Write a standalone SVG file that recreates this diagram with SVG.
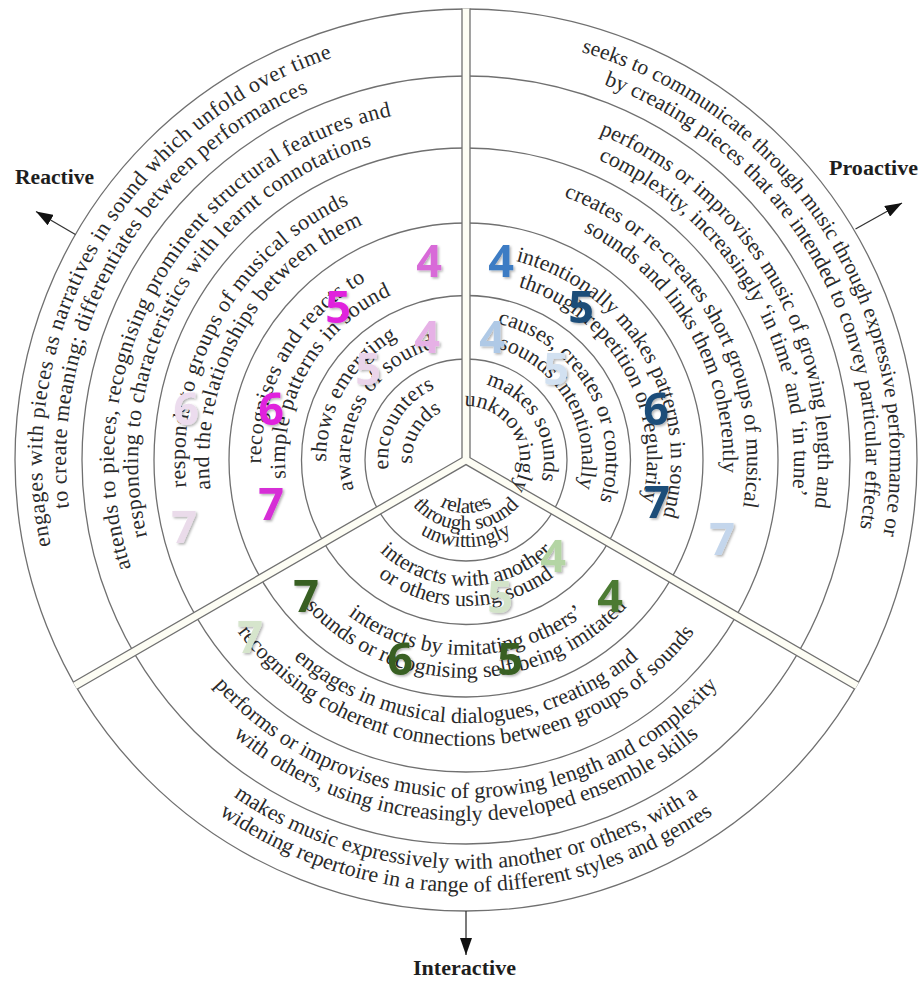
<svg xmlns="http://www.w3.org/2000/svg" width="923" height="981" viewBox="0 0 923 981">
<style>
.ring{fill:none;stroke:#707070;stroke-width:1.3}
.edge{fill:none;stroke:#707070;stroke-width:1.3}
.t{font-family:"Liberation Serif",serif;font-size:22px;fill:#2a2a2a}
.tr{font-family:"Liberation Serif",serif;font-size:22px;letter-spacing:0.5px;fill:#2a2a2a}
.tc{font-family:"Liberation Serif",serif;font-size:21px;fill:#2a2a2a}
.num{font-family:"Open Sans","Liberation Sans",sans-serif;font-weight:bold;font-size:45px;text-anchor:middle;filter:url(#sh)}
.lbl{font-family:"Liberation Serif",serif;font-weight:bold;font-size:20px;fill:#1e1e1e}
.arr{stroke:#333;stroke-width:1.3;fill:none;marker-end:url(#ah)}
</style>
<defs>
<marker id="ah" viewBox="0 0 17 12" refX="17" refY="6" markerWidth="17" markerHeight="12" markerUnits="userSpaceOnUse" orient="auto"><path d="M0,0 L17,6 L0,12 z" fill="#111"/></marker>
<filter id="sh" x="-30%" y="-30%" width="160%" height="160%"><feDropShadow dx="1.5" dy="1.5" stdDeviation="1.2" flood-color="#000" flood-opacity="0.3"/></filter>
<path id="R424" d="M320.98,858.43 A424,424 0 1 1 738.54,135.20"/>
<path id="R400" d="M329.19,835.88 A400,400 0 1 1 723.12,153.58"/>
<path id="R352" d="M345.61,790.77 A352,352 0 1 1 692.26,190.35"/>
<path id="R328" d="M353.82,768.22 A328,328 0 1 1 676.84,208.74"/>
<path id="R281" d="M369.89,724.05 A281,281 0 1 1 646.62,244.74"/>
<path id="R257" d="M378.10,701.50 A257,257 0 1 1 631.20,263.13"/>
<path id="R205" d="M395.89,652.64 A205,205 0 1 1 597.77,302.96"/>
<path id="R181" d="M404.09,630.08 A181,181 0 1 1 582.34,321.35"/>
<path id="R140" d="M418.12,591.56 A140,140 0 1 1 555.99,352.75"/>
<path id="R116" d="M426.33,569.00 A116,116 0 1 1 540.56,371.14"/>
<path id="R78" d="M439.32,533.30 A78,78 0 1 1 516.14,400.25"/>
<path id="R54" d="M447.53,510.74 A54,54 0 1 1 500.71,418.63"/>
<path id="P424" d="M193.46,135.20 A424,424 0 1 1 611.02,858.43"/>
<path id="P400" d="M208.88,153.58 A400,400 0 1 1 602.81,835.88"/>
<path id="P352" d="M239.74,190.35 A352,352 0 1 1 586.39,790.77"/>
<path id="P328" d="M255.16,208.74 A328,328 0 1 1 578.18,768.22"/>
<path id="P281" d="M285.38,244.74 A281,281 0 1 1 562.11,724.05"/>
<path id="P257" d="M300.80,263.13 A257,257 0 1 1 553.90,701.50"/>
<path id="P205" d="M334.23,302.96 A205,205 0 1 1 536.11,652.64"/>
<path id="P181" d="M349.66,321.35 A181,181 0 1 1 527.91,630.08"/>
<path id="P140" d="M376.01,352.75 A140,140 0 1 1 513.88,591.56"/>
<path id="P116" d="M391.44,371.14 A116,116 0 1 1 505.67,569.00"/>
<path id="P78" d="M415.86,400.25 A78,78 0 1 1 492.68,533.30"/>
<path id="P54" d="M431.29,418.63 A54,54 0 1 1 484.47,510.74"/>
<path id="I432" d="M40.56,384.98 A432,432 0 1 0 891.44,384.98"/>
<path id="I409" d="M63.21,388.98 A409,409 0 1 0 868.79,388.98"/>
<path id="I361" d="M110.48,397.31 A361,361 0 1 0 821.52,397.31"/>
<path id="I338" d="M133.13,401.31 A338,338 0 1 0 798.87,401.31"/>
<path id="I286" d="M184.34,410.34 A286,286 0 1 0 747.66,410.34"/>
<path id="I263" d="M207.00,414.33 A263,263 0 1 0 725.00,414.33"/>
<path id="I218" d="M251.31,422.14 A218,218 0 1 0 680.69,422.14"/>
<path id="I195" d="M273.96,426.14 A195,195 0 1 0 658.04,426.14"/>
<path id="I146" d="M322.22,434.65 A146,146 0 1 0 609.78,434.65"/>
<path id="I126" d="M341.91,438.12 A126,126 0 1 0 590.09,438.12"/>
<path id="I87" d="M380.32,444.89 A87,87 0 1 0 551.68,444.89"/>
<path id="I70" d="M397.06,447.84 A70,70 0 1 0 534.94,447.84"/>
<path id="I53" d="M413.80,450.80 A53,53 0 1 0 518.20,450.80"/>
</defs>
<rect width="923" height="981" fill="#ffffff"/>

<g id="rings">
<circle class="ring" cx="466" cy="460" r="451"/>
<circle class="ring" cx="466" cy="460" r="384"/>
<circle class="ring" cx="466" cy="460" r="312"/>
<circle class="ring" cx="466" cy="460" r="237"/>
<circle class="ring" cx="466" cy="460" r="164.5"/>
<circle class="ring" cx="466" cy="460" r="101"/>
</g>

<g id="dividers">
<polygon points="470,8.5 470,457.69 859,682.29 855,689.21 466,464.62 77,689.21 73,682.29 462,457.69 462,8.5" fill="#fdfdf4"/>
<path class="edge" d="M470,8.5 L470,457.69 L859,682.29"/>
<path class="edge" d="M462,8.5 L462,457.69 L73,682.29"/>
<path class="edge" d="M77,689.21 L466,464.62 L855,689.21"/>
</g>

<g id="reactive-1" class="tr"><text><textPath href="#R78" startOffset="50%" text-anchor="middle">encounters</textPath></text><text><textPath href="#R54" startOffset="50%" text-anchor="middle">sounds</textPath></text></g>
<g id="reactive-2" class="tr"><text><textPath href="#R140" startOffset="50%" text-anchor="middle">shows emerging</textPath></text><text><textPath href="#R116" startOffset="50%" text-anchor="middle">awareness of sound</textPath></text></g>
<g id="reactive-3" class="tr"><text><textPath href="#R205" startOffset="50%" text-anchor="middle">recognises and reacts to</textPath></text><text><textPath href="#R181" startOffset="50%" text-anchor="middle">simple patterns in sound</textPath></text></g>
<g id="reactive-4" class="tr"><text><textPath href="#R281" startOffset="50%" text-anchor="middle">responds to groups of musical sounds</textPath></text><text><textPath href="#R257" startOffset="50%" text-anchor="middle">and the relationships between them</textPath></text></g>
<g id="reactive-5" class="tr"><text><textPath href="#R352" startOffset="50%" text-anchor="middle">attends to pieces, recognising prominent structural features and</textPath></text><text><textPath href="#R328" startOffset="50%" text-anchor="middle">responding to characteristics with learnt connotations</textPath></text></g>
<g id="reactive-6" class="tr"><text><textPath href="#R424" startOffset="50%" text-anchor="middle">engages with pieces as narratives in sound which unfold over time</textPath></text><text><textPath href="#R400" startOffset="50%" text-anchor="middle">to create meaning; differentiates between performances</textPath></text></g>

<g id="proactive-1" class="t"><text><textPath href="#P78" startOffset="50%" text-anchor="middle">makes sounds</textPath></text><text><textPath href="#P54" startOffset="50%" text-anchor="middle">unknowingly</textPath></text></g>
<g id="proactive-2" class="t"><text><textPath href="#P140" startOffset="50%" text-anchor="middle">causes, creates or controls</textPath></text><text><textPath href="#P116" startOffset="50%" text-anchor="middle">sounds intentionally</textPath></text></g>
<g id="proactive-3" class="t"><text><textPath href="#P205" startOffset="50%" text-anchor="middle">intentionally makes patterns in sound</textPath></text><text><textPath href="#P181" startOffset="50%" text-anchor="middle">through repetition or regularity</textPath></text></g>
<g id="proactive-4" class="t"><text><textPath href="#P281" startOffset="50%" text-anchor="middle">creates or re-creates short groups of musical</textPath></text><text><textPath href="#P257" startOffset="50%" text-anchor="middle">sounds and links them coherently</textPath></text></g>
<g id="proactive-5" class="t"><text><textPath href="#P352" startOffset="50%" text-anchor="middle">performs or improvises music of growing length and</textPath></text><text><textPath href="#P328" startOffset="50%" text-anchor="middle">complexity, increasingly ‘in time’ and ‘in tune’</textPath></text></g>
<g id="proactive-6" class="t"><text font-size="21.5"><textPath href="#P424" startOffset="49%" text-anchor="middle">seeks to communicate through music through expressive performance or</textPath></text><text><textPath href="#P400" startOffset="50%" text-anchor="middle">by creating pieces that are intended to convey particular effects</textPath></text></g>

<g id="interactive-1" class="tc"><text><textPath href="#I53" startOffset="50%" text-anchor="middle">relates</textPath></text><text><textPath href="#I70" startOffset="50%" text-anchor="middle">through sound</textPath></text><text><textPath href="#I87" startOffset="50%" text-anchor="middle">unwittingly</textPath></text></g>
<g id="interactive-2" class="t"><text><textPath href="#I126" startOffset="50%" text-anchor="middle">interacts with another</textPath></text><text><textPath href="#I146" startOffset="50%" text-anchor="middle">or others using sound</textPath></text></g>
<g id="interactive-3" class="t"><text><textPath href="#I195" startOffset="50%" text-anchor="middle">interacts by imitating others’</textPath></text><text><textPath href="#I218" startOffset="50%" text-anchor="middle">sounds or recognising self being imitated</textPath></text></g>
<g id="interactive-4" class="t"><text><textPath href="#I263" startOffset="50%" text-anchor="middle">engages in musical dialogues, creating and</textPath></text><text><textPath href="#I286" startOffset="50%" text-anchor="middle">recognising coherent connections between groups of sounds</textPath></text></g>
<g id="interactive-5" class="t"><text><textPath href="#I338" startOffset="50%" text-anchor="middle">performs or improvises music of growing length and complexity</textPath></text><text><textPath href="#I361" startOffset="50%" text-anchor="middle">with others, using increasingly developed ensemble skills</textPath></text></g>
<g id="interactive-6" class="t"><text><textPath href="#I409" startOffset="50%" text-anchor="middle">makes music expressively with another or others, with a</textPath></text><text><textPath href="#I432" startOffset="50%" text-anchor="middle">widening repertoire in a range of different styles and genres</textPath></text></g>

<g id="numbers">
<text class="num" x="429" y="277" fill="#d86ad8">4</text>
<text class="num" x="427" y="353" fill="#e6b1e6">4</text>
<text class="num" x="338" y="323" fill="#e020dd">5</text>
<text class="num" x="368" y="385" fill="#ead4ea">5</text>
<text class="num" x="271" y="425" fill="#e020dd">6</text>
<text class="num" x="186" y="425" fill="#ecdcee">6</text>
<text class="num" x="271" y="520" fill="#d62fd6">7</text>
<text class="num" x="184" y="543" fill="#eadbea">7</text>
<text class="num" x="501" y="277" fill="#3d7cc4">4</text>
<text class="num" x="581" y="323" fill="#1f4e79">5</text>
<text class="num" x="492" y="353" fill="#afc9e6">4</text>
<text class="num" x="556" y="385" fill="#d2e1f1">5</text>
<text class="num" x="656" y="425" fill="#1f4e79">6</text>
<text class="num" x="657" y="518" fill="#1f4e79">7</text>
<text class="num" x="722" y="555" fill="#c4d6ec">7</text>
<text class="num" x="553" y="572" fill="#b4d5a4">4</text>
<text class="num" x="500" y="613" fill="#d3e4c9">5</text>
<text class="num" x="610" y="612" fill="#4b7a32">4</text>
<text class="num" x="306" y="612" fill="#375f22">7</text>
<text class="num" x="250" y="653" fill="#d6e5cc">7</text>
<text class="num" x="400" y="675" fill="#375f22">6</text>
<text class="num" x="510" y="675" fill="#375f22">5</text>
</g>

<g id="connectors">
<path class="arr" d="M75.4,234.5 L36,211.5"/>
<path class="arr" d="M855.5,229 L902,203"/>
<path class="arr" d="M466,911 L466,955"/>
</g>

<g id="labels">
<text id="label-reactive" class="lbl" x="15" y="184" textLength="79" lengthAdjust="spacingAndGlyphs">Reactive</text>
<text id="label-proactive" class="lbl" x="829" y="175" textLength="89" lengthAdjust="spacingAndGlyphs">Proactive</text>
<text id="label-interactive" class="lbl" x="413" y="975" textLength="103" lengthAdjust="spacingAndGlyphs">Interactive</text>
</g>
</svg>
